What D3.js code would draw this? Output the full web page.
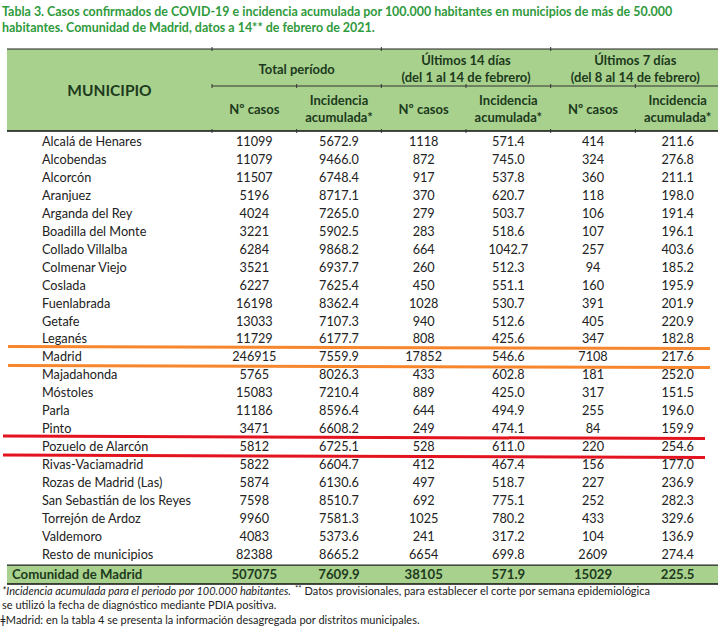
<!DOCTYPE html>
<html><head><meta charset="utf-8">
<script src="https://cdn.jsdelivr.net/npm/d3@7"></script>
<style>body{margin:0;background:#fff}svg{display:block}text{font-family:Lato,"Open Sans",sans-serif}</style>
</head><body><svg id="c" width="720" height="637"></svg>
<script>
const municipios = ["Alcalá de Henares","Alcobendas","Alcorcón","Aranjuez","Arganda del Rey","Boadilla del Monte","Collado Villalba","Colmenar Viejo","Coslada","Fuenlabrada","Getafe","Leganés","Madrid","Majadahonda","Móstoles","Parla","Pinto","Pozuelo de Alarcón","Rivas-Vaciamadrid","Rozas de Madrid (Las)","San Sebastián de los Reyes","Torrejón de Ardoz","Valdemoro","Resto de municipios"];
const casosTotal = [11099,11079,11507,5196,4024,3221,6284,3521,6227,16198,13033,11729,246915,5765,15083,11186,3471,5812,5822,5874,7598,9960,4083,82388];
const iaTotal = [5672.9,9466.0,6748.4,8717.1,7265.0,5902.5,9868.2,6937.7,7625.4,8362.4,7107.3,6177.7,7559.9,8026.3,7210.4,8596.4,6608.2,6725.1,6604.7,6130.6,8510.7,7581.3,5373.6,8665.2];
const casos14 = [1118,872,917,370,279,283,664,260,450,1028,940,808,17852,433,889,644,249,528,412,497,692,1025,241,6654];
const ia14 = [571.4,745.0,537.8,620.7,503.7,518.6,1042.7,512.3,551.1,530.7,512.6,425.6,546.6,602.8,425.0,494.9,474.1,611.0,467.4,518.7,775.1,780.2,317.2,699.8];
const casos7 = [414,324,360,118,106,107,257,94,160,391,405,347,7108,181,317,255,84,220,156,227,252,433,104,2609];
const ia7 = [211.6,276.8,211.1,198.0,191.4,196.1,403.6,185.2,195.9,201.9,220.9,182.8,217.6,252.0,151.5,196.0,159.9,254.6,177.0,236.9,282.3,329.6,136.9,274.4];
const totalLabel = "Comunidad de Madrid";
const totalValues = [507075,7609.9,38105,571.9,15029,225.5];
const columnKeys = ["casosTotal","iaTotal","casos14","ia14","casos7","ia7"];
const groupLabels = [["Total período"],["Últimos 14 días","(del 1 al 14 de febrero)"],["Últimos 7 días","(del 8 al 14 de febrero)"]];
const subLabels = [["Nº casos"],["Incidencia","acumulada*"]];
const titleLines = ["Tabla 3. Casos confirmados de COVID-19 e incidencia acumulada por 100.000 habitantes en municipios de más de 50.000","habitantes. Comunidad de Madrid, datos a 14** de febrero de 2021."];
const highlightOrange = "Madrid";
const highlightRed = "Pozuelo de Alarcón";

(function draw() {
const cols = {casosTotal, iaTotal, casos14, ia14, casos7, ia7};
const svg = d3.select("#c");
const headerFill = "#a9d18e", hdrText = "#1c3a1c";
const L = 7, R = 718, T = 49, subTop = 86, hdrBottom = 131;
const x = d3.scaleBand().domain(columnKeys).range([212, 720]);
const y = d3.scaleBand().domain(municipios).range([132.5, 132.5 + municipios.length * 17.96]);
const fInt = d3.format("d"), fDec = d3.format(".1f");
const fmt = (k, v) => k.startsWith("ia") ? fDec(v) : fInt(v);

svg.selectAll("text.title").data(titleLines).join("text").attr("class", "title")
  .attr("x", 2).attr("y", (d, i) => 16 + i * 15.5)
  .attr("font-size", 12.45).attr("font-weight", 700).attr("fill", "#2f9a3c").text(d => d);

svg.append("rect").attr("x", L).attr("y", T).attr("width", R - L).attr("height", hdrBottom - T).attr("fill", headerFill);
svg.append("line").attr("x1", L).attr("x2", R).attr("y1", T).attr("y2", T).attr("stroke", "#222").attr("stroke-width", 1.2);
svg.append("line").attr("x1", 212).attr("x2", R).attr("y1", subTop).attr("y2", subTop).attr("stroke", "#333").attr("stroke-width", 1);
svg.append("line").attr("x1", L).attr("x2", R).attr("y1", hdrBottom).attr("y2", hdrBottom).attr("stroke", "#111").attr("stroke-width", 1.5);

svg.append("text").attr("x", (L + 212) / 2).attr("y", 96).attr("text-anchor", "middle")
  .attr("font-size", 15.5).attr("font-weight", 700).attr("fill", hdrText).text("MUNICIPIO");

const groups = [0, 1, 2].map(g => ({lines: groupLabels[g], x0: x(columnKeys[g * 2]), x1: x(columnKeys[g * 2 + 1]) + x.bandwidth()}));
groups.forEach(g => {
  const cx = (g.x0 + g.x1) / 2;
  const ys = g.lines.length === 1 ? [74] : [65, 82];
  g.lines.forEach((t, i) => svg.append("text").attr("x", cx).attr("y", ys[i]).attr("text-anchor", "middle")
    .attr("font-size", 13).attr("font-weight", 700).attr("fill", hdrText).text(t));
});
columnKeys.forEach((k, i) => {
  const lines = subLabels[i % 2];
  const cx = x(k) + x.bandwidth() / 2;
  const ys = lines.length === 1 ? [114] : [105, 122];
  lines.forEach((t, j) => svg.append("text").attr("x", cx).attr("y", ys[j]).attr("text-anchor", "middle")
    .attr("font-size", 13).attr("font-weight", 700).attr("fill", hdrText).text(t));
});
columnKeys.forEach((k, i) => {
  const bx = x(k);
  if (i % 2 === 0) svg.append("line").attr("x1", bx).attr("x2", bx).attr("y1", T - 2).attr("y2", T + 2).attr("stroke", "#333");
  svg.append("line").attr("x1", bx).attr("x2", bx).attr("y1", subTop - 2).attr("y2", subTop + 2).attr("stroke", "#333");
  svg.append("line").attr("x1", bx).attr("x2", bx).attr("y1", hdrBottom - 2).attr("y2", hdrBottom + 2).attr("stroke", "#333");
});

const rows = svg.selectAll("g.row").data(municipios).join("g").attr("class", "row")
  .attr("transform", d => `translate(0,${y(d) + y.bandwidth() / 2})`);
rows.append("text").attr("x", 42).attr("dy", "0.35em").attr("font-size", 12.7).attr("fill", "#222").text(d => d);
columnKeys.forEach(k => {
  rows.append("text").attr("x", x(k) + x.bandwidth() / 2).attr("dy", "0.35em").attr("text-anchor", "middle")
    .attr("font-size", 12.7).attr("fill", "#222").text((d, i) => fmt(k, cols[k][i]));
});

const tTop = y.range()[1] + 1.5, tH = 19;
svg.append("rect").attr("x", L).attr("y", tTop).attr("width", R - L).attr("height", tH).attr("fill", headerFill);
svg.append("line").attr("x1", L).attr("x2", R).attr("y1", tTop).attr("y2", tTop).attr("stroke", "#222").attr("stroke-width", 1.2);
svg.append("line").attr("x1", L).attr("x2", R).attr("y1", tTop + tH).attr("y2", tTop + tH).attr("stroke", "#111").attr("stroke-width", 1.5);
svg.append("text").attr("x", 12).attr("y", tTop + tH / 2).attr("dy", "0.35em").attr("font-size", 13.2).attr("font-weight", 700).attr("fill", hdrText).text(totalLabel);
columnKeys.forEach((k, i) => svg.append("text").attr("x", x(k) + x.bandwidth() / 2).attr("y", tTop + tH / 2).attr("dy", "0.35em")
  .attr("text-anchor", "middle").attr("font-size", 13.2).attr("font-weight", 700).attr("fill", hdrText).text(fmt(k, totalValues[i])));

const hl = (name, color, x0, x1, slant) => {
  const yt = y(name) - 0.5, yb = y(name) + y.bandwidth() + 0.5;
  [yt, yb].forEach(yy => svg.append("line").attr("x1", x0).attr("x2", x1).attr("y1", yy - slant / 2).attr("y2", yy + slant / 2)
    .attr("stroke", color).attr("stroke-width", 3));
};
hl(highlightOrange, "#f7862d", 8, 710, 2);
hl(highlightRed, "#e3141f", 3, 705, 2.5);

const fn = svg.append("text").attr("x", 2).attr("y", 595).attr("font-size", 11).attr("fill", "#222");
fn.append("tspan").attr("font-style", "italic").text("*Incidencia acumulada para el periodo por 100.000 habitantes.");
fn.append("tspan").attr("dx", 4).attr("dy", -4).attr("font-size", 8).text("**");
fn.append("tspan").attr("dy", 4).text(" Datos provisionales, para establecer el corte por semana epidemiológica");
svg.append("text").attr("x", 2).attr("y", 609).attr("font-size", 11).attr("fill", "#222").text("se utilizó la fecha de diagnóstico mediante PDIA positiva.");
svg.append("text").attr("x", 0).attr("y", 624).attr("font-size", 11).attr("fill", "#222").text("ǂMadrid: en la tabla 4 se presenta la información desagregada por distritos municipales.");
})();
</script></body></html>
